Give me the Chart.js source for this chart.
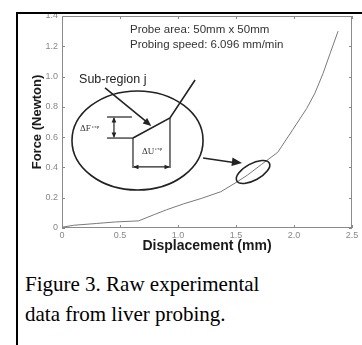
<!DOCTYPE html>
<html>
<head>
<meta charset="utf-8">
<script src="https://cdn.jsdelivr.net/npm/chart.js@4.4.1/dist/chart.umd.min.js"></script>
<style>
  body { margin: 0; background: #fff; }
  #page { position: relative; width: 362px; height: 345px; overflow: hidden; }
  #wrap { position: absolute; left: 0; top: 0; width: 362px; height: 260px; }
  .frameTop { position: absolute; left: 16px; top: 12px; width: 346px; height: 2px; background: #000; }
  .frameLeft { position: absolute; left: 16px; top: 12px; width: 2px; height: 333px; background: #000; }
  #caption { position: absolute; left: 25px; top: 269px; font-family: "Liberation Serif", "Times New Roman", serif;
    font-size: 21px; line-height: 30px; color: #000; }
</style>
</head>
<body>
<div id="page">
  <div id="wrap"><canvas id="chart" width="362" height="260"></canvas></div>
  <div class="frameTop"></div>
  <div class="frameLeft"></div>
  <div id="caption">Figure 3. Raw experimental<br>data from liver probing.</div>
</div>
<script>
// probe data
const displacement = [0, 0.1, 0.3, 0.46, 0.66, 0.8, 0.9, 1.05, 1.2, 1.37, 1.5, 1.6, 1.72, 1.86, 1.99, 2.11, 2.18, 2.25, 2.31, 2.38];
const force = [0.005, 0.018, 0.03, 0.04, 0.047, 0.09, 0.12, 0.16, 0.195, 0.24, 0.3, 0.35, 0.42, 0.5, 0.65, 0.79, 0.89, 1.02, 1.15, 1.3];
const xTicks = [0, 0.5, 1, 1.5, 2, 2.5];
const yTicks = [0, 0.2, 0.4, 0.6, 0.8, 1, 1.2, 1.4];

const points = displacement.map((d, i) => ({ x: d, y: force[i] }));

function arrowHead(ctx, x1, y1, x2, y2, size) {
  const a = Math.atan2(y2 - y1, x2 - x1);
  ctx.beginPath();
  ctx.moveTo(x2, y2);
  ctx.lineTo(x2 - size * Math.cos(a - 0.4), y2 - size * Math.sin(a - 0.4));
  ctx.lineTo(x2 - size * Math.cos(a + 0.4), y2 - size * Math.sin(a + 0.4));
  ctx.closePath();
  ctx.fill();
}

function line(ctx, pts) {
  ctx.beginPath();
  ctx.moveTo(pts[0][0], pts[0][1]);
  for (let i = 1; i < pts.length; i++) ctx.lineTo(pts[i][0], pts[i][1]);
  ctx.stroke();
}

// box, inward ticks
const boxPlugin = {
  id: "box",
  beforeDatasetsDraw(chart) {
    const { ctx, chartArea: a, scales } = chart;
    ctx.save();
    ctx.strokeStyle = "#8a8a8a";
    ctx.lineWidth = 1;
    ctx.strokeRect(a.left + 0.5, a.top + 0.5, a.right - a.left - 1, a.bottom - a.top - 1);
    ctx.beginPath();
    xTicks.forEach((t) => {
      const px = Math.round(scales.x.getPixelForValue(t)) + 0.5;
      ctx.moveTo(px, a.bottom); ctx.lineTo(px, a.bottom - 3);
      ctx.moveTo(px, a.top); ctx.lineTo(px, a.top + 3);
    });
    yTicks.forEach((t) => {
      const py = Math.round(scales.y.getPixelForValue(t)) + 0.5;
      ctx.moveTo(a.left, py); ctx.lineTo(a.left + 3, py);
      ctx.moveTo(a.right, py); ctx.lineTo(a.right - 3, py);
    });
    ctx.stroke();
    ctx.restore();
  },
};

// notes drawn on the plot, positioned in data units
const notePlugin = {
  id: "notes",
  afterDatasetsDraw(chart) {
    const { ctx, scales } = chart;
    const X = (v) => scales.x.getPixelForValue(v);
    const Y = (v) => scales.y.getPixelForValue(v);
    ctx.save();

    ctx.fillStyle = "#333";
    ctx.font = "11.5px 'Liberation Sans', Arial, sans-serif";
    ctx.textBaseline = "middle";
    ctx.fillText("Probe area: 50mm x 50mm", X(0.586), Y(1.308));
    ctx.fillText("Probing speed: 6.096 mm/min", X(0.586), Y(1.209));

    ctx.fillStyle = "#222";
    ctx.font = "12.5px 'Liberation Sans', Arial, sans-serif";
    ctx.fillText("Sub-region j", X(0.147), Y(0.978));

    ctx.strokeStyle = "#222";
    ctx.fillStyle = "#222";
    ctx.lineWidth = 1.6;

    // big ellipse
    const cx = X(0.651), cy = Y(0.578);
    ctx.beginPath();
    ctx.ellipse(cx, cy, X(0.651 + 0.565) - cx, cy - Y(0.578 + 0.327), 0, 0, Math.PI * 2);
    ctx.stroke();

    // pointer to the sub-region
    line(ctx, [[X(0.371), Y(0.925)], [X(0.74), Y(0.694)]]);
    arrowHead(ctx, X(0.371), Y(0.925), X(0.77), Y(0.674), 9);

    // sub-region segment
    line(ctx, [[X(0.612), Y(0.594)], [X(0.931), Y(0.727)], [X(1.147), Y(0.977)]]);

    ctx.lineWidth = 1.2;
    // delta U bracket
    line(ctx, [[X(0.612), Y(0.594)], [X(0.612), Y(0.396)]]);
    line(ctx, [[X(0.931), Y(0.727)], [X(0.931), Y(0.396)]]);
    line(ctx, [[X(0.62), Y(0.403)], [X(0.923), Y(0.403)]]);
    arrowHead(ctx, X(0.75), Y(0.403), X(0.612), Y(0.403), 6);
    arrowHead(ctx, X(0.8), Y(0.403), X(0.931), Y(0.403), 6);

    // delta F bracket
    line(ctx, [[X(0.388), Y(0.733)], [X(0.603), Y(0.733)]]);
    line(ctx, [[X(0.388), Y(0.594)], [X(0.612), Y(0.594)]]);
    line(ctx, [[X(0.448), Y(0.725)], [X(0.448), Y(0.602)]]);
    arrowHead(ctx, X(0.448), Y(0.66), X(0.448), Y(0.733), 6);
    arrowHead(ctx, X(0.448), Y(0.67), X(0.448), Y(0.594), 6);

    ctx.font = "9px 'Liberation Serif', 'Times New Roman', serif";
    ctx.fillStyle = "#333";
    ctx.fillText("\u0394F", X(0.155), Y(0.655));
    ctx.fillText("\u0394U", X(0.69), Y(0.505));
    ctx.font = "5px 'Liberation Serif', 'Times New Roman', serif";
    ctx.fillText("exp", X(0.155) + 12, Y(0.672));
    ctx.fillText("exp", X(0.69) + 13, Y(0.522));

    // arrow to the small ellipse
    ctx.lineWidth = 1.6;
    ctx.fillStyle = "#222";
    line(ctx, [[X(1.216), Y(0.462)], [X(1.48), Y(0.433)]]);
    arrowHead(ctx, X(1.216), Y(0.462), X(1.552), Y(0.429), 11);

    // small ellipse round the sampled region
    const sx = X(1.647), sy = Y(0.37);
    ctx.beginPath();
    ctx.ellipse(sx, sy, X(1.647 + 0.16) - sx, sy - Y(0.37 + 0.055), -0.5, 0, Math.PI * 2);
    ctx.stroke();

    ctx.restore();
  },
};

new Chart(document.getElementById("chart"), {
  type: "scatter",
  data: {
    datasets: [{
      data: points,
      showLine: true,
      borderColor: "#7a7a7a",
      borderWidth: 1,
      pointRadius: 0,
      tension: 0,
    }],
  },
  options: {
    responsive: false,
    animation: false,
    layout: { padding: { top: 16, right: 10, left: 0, bottom: 0 } },
    plugins: { legend: { display: false }, tooltip: { enabled: false } },
    scales: {
      x: {
        type: "linear",
        min: 0,
        max: 2.5,
        afterBuildTicks: (s) => { s.ticks = xTicks.map((v) => ({ value: v })); },
        afterFit: (s) => { s.height = 32; },
        grid: { display: false, drawTicks: false },
        border: { display: false },
        ticks: { color: "#888", padding: 2, font: { size: 9, family: "'Liberation Sans', Arial, sans-serif" } },
        title: {
          display: true,
          text: "Displacement (mm)",
          color: "#1a1a1a",
          font: { size: 14, weight: "bold", family: "'Liberation Sans', Arial, sans-serif" },
          padding: { top: 0, bottom: 5 },
        },
      },
      y: {
        min: 0,
        max: 1.4,
        afterBuildTicks: (s) => { s.ticks = yTicks.map((v) => ({ value: v })); },
        afterFit: (s) => { s.width = 62; },
        grid: { display: false, drawTicks: false },
        border: { display: false },
        ticks: { color: "#888", padding: 4, font: { size: 9, family: "'Liberation Sans', Arial, sans-serif" } },
        title: {
          display: true,
          text: "Force (Newton)",
          color: "#1a1a1a",
          font: { size: 13, weight: "bold", family: "'Liberation Sans', Arial, sans-serif" },
          padding: { top: 30, bottom: 0 },
        },
      },
    },
  },
  plugins: [boxPlugin, notePlugin],
});
</script>
</body>
</html>
